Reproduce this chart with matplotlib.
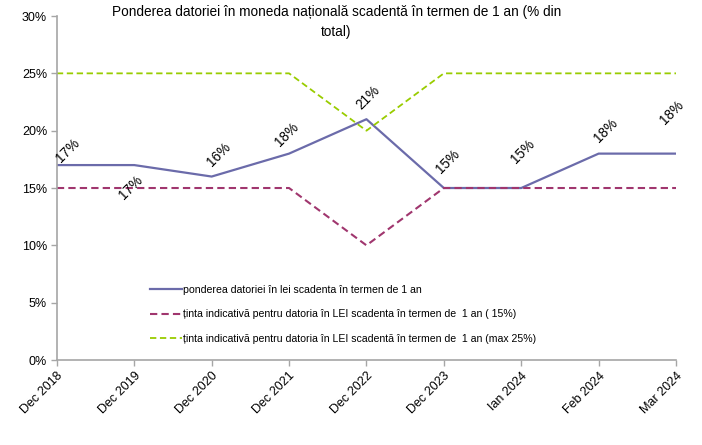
import matplotlib.pyplot as plt
import numpy as np

plt.rcParams['font.family'] = ['Liberation Sans', 'DejaVu Sans']

# data
categories = ['Dec 2018', 'Dec 2019', 'Dec 2020', 'Dec 2021', 'Dec 2022',
              'Dec 2023', 'Ian 2024', 'Feb 2024', 'Mar 2024']
pondere = [17, 17, 16, 18, 21, 15, 15, 18, 18]
tinta_15 = [15, 15, 15, 15, 10, 15, 15, 15, 15]
tinta_25 = [25, 25, 25, 25, 20, 25, 25, 25, 25]

# where the data labels sit relative to each point (x in categories, y in %)
label_dx = [0.14, -0.04, 0.09, -0.03, 0.02, 0.05, 0.02, 0.09, -0.05]
label_dy = [1.3, -2.0, 1.9, 1.7, 1.9, 2.3, 3.2, 2.0, 3.6]

names = ['ponderea datoriei în lei scadenta în termen de 1 an',
         'ținta indicativă pentru datoria în LEI scadenta în termen de  1 an ( 15%)',
         'ținta indicativă pentru datoria în LEI scadentă în termen de  1 an (max 25%)']

title = 'Ponderea datoriei în moneda națională scadentă în termen de 1 an (% din\ntotal)'

fig = plt.figure(figsize=(7.02, 4.45), dpi=100)
ax = fig.add_axes([0.081, 0.191, 0.882, 0.773])

x = np.arange(len(categories))
ax.plot(x, pondere, color='#6B6BAA', lw=1.6, label=names[0])
ax.plot(x, tinta_15, color='#A0366E', lw=1.5, dashes=(3.5, 2), label=names[1])
ax.plot(x, tinta_25, color='#99CC00', lw=1.3, dashes=(3.5, 2), label=names[2])

for i, v in enumerate(pondere):
    ax.text(i + label_dx[i], v + label_dy[i], '%d%%' % v, rotation=45,
            ha='center', va='center', fontsize=9.8, rotation_mode='anchor')

ax.set_xlim(0, len(categories) - 1)
ax.set_ylim(0, 30)
ax.set_xticks(x)
ax.set_xticklabels(categories, rotation=45, ha='right', rotation_mode='anchor',
                   fontsize=9)
ax.set_yticks(range(0, 31, 5))
ax.set_yticklabels(['%d%%' % t for t in range(0, 31, 5)], fontsize=9)

for s in ['top', 'right']:
    ax.spines[s].set_visible(False)
for s in ['left', 'bottom']:
    ax.spines[s].set_color('#A6A6A6')
    ax.spines[s].set_linewidth(1.2)
ax.tick_params(axis='both', color='#A6A6A6', length=4, width=1, pad=3)

ax.legend(loc='lower left', bbox_to_anchor=(0.135, 0.02), frameon=False,
          fontsize=7.6, handlelength=3.0, handletextpad=0.15, labelspacing=1.35)

fig.text(0.479, 0.988, title, ha='center', va='top', fontsize=9.8,
         linespacing=1.5)

fig.savefig('out.png', dpi=100)
